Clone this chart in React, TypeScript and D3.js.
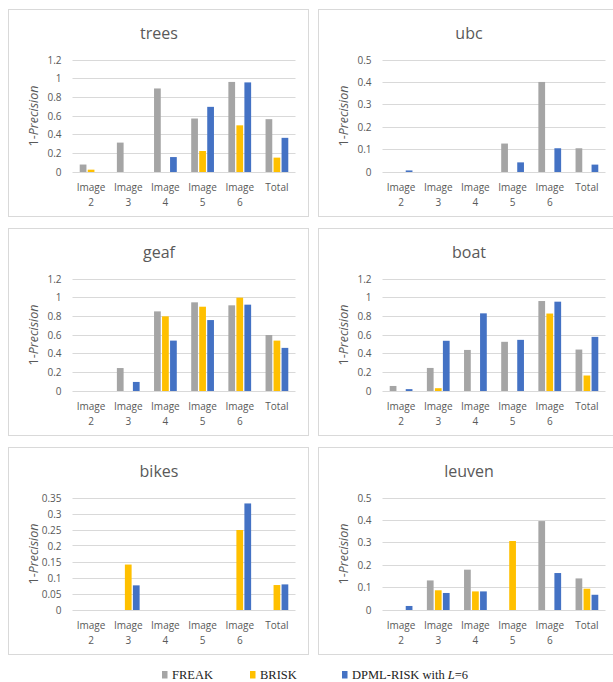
import React from "react";
import * as d3 from "d3";

const categories = ["Image 2", "Image 3", "Image 4", "Image 5", "Image 6", "Total"];
const seriesNames = ["FREAK", "BRISK", "DPML-RISK"];
const seriesColors = ["#A5A5A5", "#FFC000", "#4472C4"];

const treesFREAK = [0.08, 0.315, 0.895, 0.573, 0.965, 0.566];
const treesBRISK = [0.025, 0, 0, 0.225, 0.5, 0.154];
const treesDPML = [0, 0, 0.16, 0.698, 0.96, 0.366];

const ubcFREAK = [0, 0, 0, 0.127, 0.402, 0.106];
const ubcBRISK = [0, 0, 0, 0, 0, 0];
const ubcDPML = [0.007, 0, 0, 0.043, 0.106, 0.033];

const geafFREAK = [0, 0.246, 0.853, 0.95, 0.918, 0.6];
const geafBRISK = [0, 0, 0.8, 0.903, 1.0, 0.54];
const geafDPML = [0, 0.097, 0.54, 0.76, 0.925, 0.462];

const boatFREAK = [0.054, 0.247, 0.44, 0.527, 0.964, 0.444];
const boatBRISK = [0, 0.03, 0, 0, 0.83, 0.166];
const boatDPML = [0.02, 0.538, 0.832, 0.548, 0.957, 0.58];

const bikesFREAK = [0, 0, 0, 0, 0, 0];
const bikesBRISK = [0, 0.142, 0, 0, 0.25, 0.078];
const bikesDPML = [0, 0.077, 0, 0, 0.333, 0.08];

const leuvenFREAK = [0, 0.132, 0.18, 0, 0.397, 0.141];
const leuvenBRISK = [0, 0.088, 0.083, 0.308, 0, 0.095];
const leuvenDPML = [0.018, 0.076, 0.083, 0, 0.165, 0.068];

const ticks12 = [0, 0.2, 0.4, 0.6, 0.8, 1, 1.2];
const ticks05 = [0, 0.1, 0.2, 0.3, 0.4, 0.5];
const ticks035 = [0, 0.05, 0.1, 0.15, 0.2, 0.25, 0.3, 0.35];

const panels = [
  { title: "trees", series: [treesFREAK, treesBRISK, treesDPML], ticks: ticks12, col: 0, row: 0 },
  { title: "ubc", series: [ubcFREAK, ubcBRISK, ubcDPML], ticks: ticks05, col: 1, row: 0 },
  { title: "geaf", series: [geafFREAK, geafBRISK, geafDPML], ticks: ticks12, col: 0, row: 1 },
  { title: "boat", series: [boatFREAK, boatBRISK, boatDPML], ticks: ticks12, col: 1, row: 1 },
  { title: "bikes", series: [bikesFREAK, bikesBRISK, bikesDPML], ticks: ticks035, col: 0, row: 2 },
  { title: "leuven", series: [leuvenFREAK, leuvenBRISK, leuvenDPML], ticks: ticks05, col: 1, row: 2 },
];

const colX = [8.5, 318.5];
const rowY = [9.5, 228.5, 447.5];
const PW = 300;
const PH = 207;
const PLOT_L = 64;
const PLOT_T = 50.5;
const PLOT_W = 223;
const PLOT_H = 112;

const FONT = "'Open Sans', sans-serif";
const TXT = "#595959";
const fmt = d3.format(".2~f");

function Panel({ p }: { p: (typeof panels)[number] }) {
  const x0 = colX[p.col];
  const y0 = rowY[p.row];
  const x = d3.scaleBand<string>().domain(categories).range([PLOT_L, PLOT_L + PLOT_W]);
  const inner = d3
    .scaleBand<string>()
    .domain(seriesNames)
    .range([0, x.bandwidth()])
    .paddingInner(0.16)
    .paddingOuter(0.9);
  const yMax = p.ticks[p.ticks.length - 1];
  const y = d3.scaleLinear().domain([0, yMax]).range([PLOT_T + PLOT_H, PLOT_T]);
  return (
    <g transform={`translate(${x0},${y0})`}>
      <rect x={0} y={0} width={PW} height={PH} fill="#fff" stroke="#D9D9D9" strokeWidth={1} />
      <text x={PW / 2 + 0.5} y={29} textAnchor="middle" fontFamily={FONT} fontSize={16} fill={TXT}>
        {p.title}
      </text>
      {p.ticks.map((t) => (
        <g key={t}>
          <line x1={PLOT_L} x2={PLOT_L + PLOT_W} y1={Math.round(y(t))} y2={Math.round(y(t))} stroke="#D9D9D9" strokeWidth={1} />
          <text x={PLOT_L - 11} y={y(t)} dy="0.35em" textAnchor="end" fontFamily={FONT} fontSize={10} fill={TXT}>
            {fmt(t)}
          </text>
        </g>
      ))}
      {p.series.map((vals, si) =>
        vals.map((v, ci) =>
          v > 0 ? (
            <rect
              key={`${si}-${ci}`}
              x={(x(categories[ci]) as number) + (inner(seriesNames[si]) as number)}
              y={y(v)}
              width={inner.bandwidth()}
              height={y(0) - y(v)}
              fill={seriesColors[si]}
            />
          ) : null
        )
      )}
      {categories.map((c) => {
        const parts = c.split(" ");
        const cx = (x(c) as number) + x.bandwidth() / 2;
        return (
          <text key={c} x={cx} textAnchor="middle" fontFamily={FONT} fontSize={10} fill={TXT}>
            <tspan x={cx} y={PLOT_T + PLOT_H + 18.5}>{parts[0]}</tspan>
            {parts[1] ? (
              <tspan x={cx} y={PLOT_T + PLOT_H + 33.5}>{parts[1]}</tspan>
            ) : null}
          </text>
        );
      })}
      <text
        transform={`translate(25,${PLOT_T + PLOT_H / 2}) rotate(-90)`}
        textAnchor="middle"
        dy="0.35em"
        fontFamily={FONT}
        fontSize={12.5}
        fill={TXT}
      >
        1-<tspan fontStyle="italic">Precision</tspan>
      </text>
    </g>
  );
}

const legendItems = [
  { label: "FREAK", x: 162 },
  { label: "BRISK", x: 250 },
  { label: "DPML-RISK with ", x: 342, extra: true },
];

export default function App() {
  return (
    <div style={{ position: "absolute", left: 0, top: 0 }}>
      <svg width={613} height={682} style={{ display: "block", background: "#fff" }}>
        <rect x={0} y={0} width={613} height={682} fill="#fff" />
        {panels.map((p) => (
          <Panel key={p.title} p={p} />
        ))}
        {legendItems.map((it, i) => (
          <g key={it.label}>
            <rect x={it.x} y={671} width={5.5} height={7.5} fill={seriesColors[i]} />
            <text x={it.x + 10} y={679} fontFamily="'Liberation Serif', 'Times New Roman', serif" fontSize={12.5} fill="#222">
              {it.label}
              {it.extra ? (
                <>
                  <tspan fontStyle="italic">L</tspan>
                  <tspan>=6</tspan>
                </>
              ) : null}
            </text>
          </g>
        ))}
      </svg>
    </div>
  );
}
